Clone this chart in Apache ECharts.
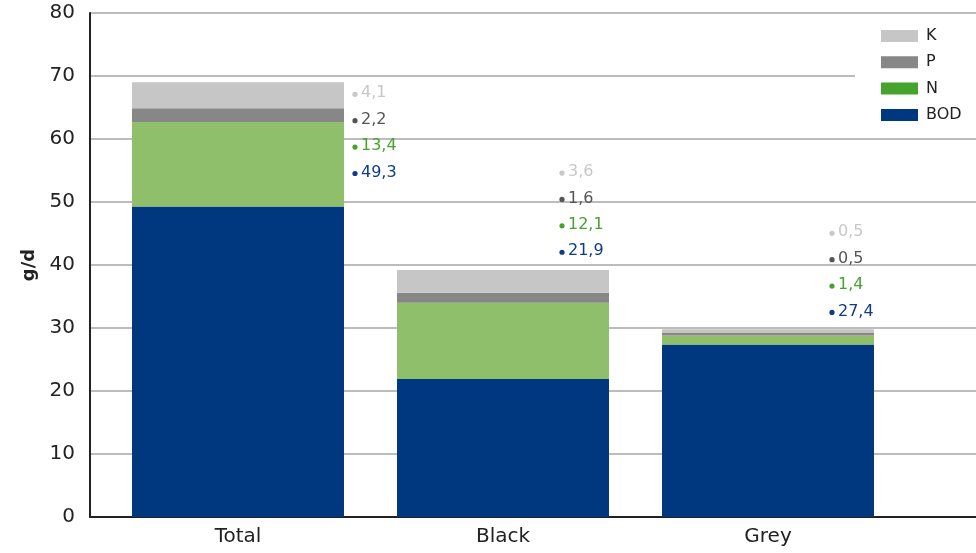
<!DOCTYPE html>
<html>
<head>
<meta charset="utf-8">
<script src="https://cdn.jsdelivr.net/npm/echarts@6/dist/echarts.min.js"></script>
<style>
html,body{margin:0;padding:0;background:#fff;}
#chart{width:976px;height:553px;}
</style>
</head>
<body>
<div id="chart"></div>
<script>
// ---- data ----
const categories = ['Total', 'Black', 'Grey'];
const bodValues = [49.3, 21.9, 27.4];
const nValues = [13.4, 12.1, 1.4];
const pValues = [2.2, 1.6, 0.5];
const kValues = [4.1, 3.6, 0.5];
const yTicks = { min: 0, max: 80, interval: 10 };

// ---- styles / layout ----
const barColors = { BOD: '#003880', N: '#8fbf6b', P: '#878787', K: '#c6c6c6' };
const legendColors = { BOD: '#003880', N: '#46a32e', P: '#878787', K: '#c6c6c6' };
const labelColors = { BOD: '#0d3c8a', N: '#46a32e', P: '#555555', K: '#c8c8c8' };
// label block anchor per category: [dx from category centre, dy from stack top] in px
const labelAnchor = [[117, 11], [59, -98], [64, -97]];
const labelRowGap = 26.4;
const FONT = 'DejaVu Sans';

const totals = categories.map((c, i) => bodValues[i] + nValues[i] + pValues[i] + kValues[i]);
const fmt = v => v.toFixed(1).replace('.', ',');

const chart = echarts.init(document.getElementById('chart'));

function barSeries(name, values) {
  return {
    name: name,
    type: 'bar',
    stack: 'total',
    xAxisIndex: 1,
    yAxisIndex: 1,
    barCategoryGap: '20%',
    data: values,
    itemStyle: { color: barColors[name] },
    emphasis: { disabled: true }
  };
}

const labelSeries = {
  type: 'custom',
  name: 'labels',
  silent: true,
  z: 10,
  xAxisIndex: 1,
  yAxisIndex: 1,
  clip: false,
  data: categories.map((c, i) => [i, totals[i]]),
  encode: { x: 0, y: 1 },
  renderItem: function (params, api) {
    const i = params.dataIndex;
    const pt = api.coord([api.value(0), api.value(1)]);
    const x = pt[0] + labelAnchor[i][0];
    const y = pt[1] + labelAnchor[i][1];
    const rows = [
      ['K', kValues[i]],
      ['P', pValues[i]],
      ['N', nValues[i]],
      ['BOD', bodValues[i]]
    ];
    const children = [];
    rows.forEach(function (r, j) {
      const yy = y + j * labelRowGap;
      children.push({
        type: 'circle',
        shape: { cx: x, cy: yy + 1, r: 2.6 },
        style: { fill: labelColors[r[0]] }
      });
      children.push({
        type: 'text',
        style: {
          x: x + 6,
          y: yy,
          text: fmt(r[1]),
          fill: labelColors[r[0]],
          fontSize: 16,
          fontFamily: FONT,
          verticalAlign: 'middle',
          align: 'left'
        }
      });
    });
    return { type: 'group', children: children };
  }
};

chart.setOption({
  animation: false,
  backgroundColor: '#ffffff',
  grid: [
    { left: 90, right: 0, top: 13, bottom: 36, containLabel: false },
    { left: 105.5, right: 75.5, top: 13, bottom: 36, containLabel: false }
  ],
  legend: {
    orient: 'vertical',
    left: 855,
    top: 21,
    padding: [7, 20, 7, 26],
    backgroundColor: '#ffffff',
    itemWidth: 37,
    itemHeight: 12,
    itemGap: 10.3,
    textStyle: { fontFamily: FONT, fontSize: 16, color: '#222222', padding: [0, 0, 0, 3] },
    data: ['K', 'P', 'N', 'BOD'].map(n => ({ name: n, icon: 'rect', itemStyle: { color: legendColors[n] } })),
    selectedMode: false
  },
  xAxis: [
    {
      type: 'category',
      gridIndex: 0,
      data: categories,
      axisTick: { show: false },
      axisLabel: { show: false },
      axisLine: { show: true, lineStyle: { color: '#222222', width: 2 } }
    },
    {
      type: 'category',
      gridIndex: 1,
      data: categories,
      axisTick: { show: false },
      axisLine: { show: false },
      axisLabel: { fontFamily: FONT, fontSize: 20, color: '#222222', margin: 10 }
    }
  ],
  yAxis: [
    {
      type: 'value',
      gridIndex: 0,
      min: yTicks.min,
      max: yTicks.max,
      interval: yTicks.interval,
      name: 'g/d',
      nameLocation: 'middle',
      nameGap: 52,
      nameTextStyle: { fontFamily: FONT, fontSize: 18, fontWeight: 'bold', color: '#222222' },
      axisLine: { show: true, lineStyle: { color: '#222222', width: 2 } },
      axisTick: { show: false },
      axisLabel: { fontFamily: FONT, fontSize: 20, color: '#222222', margin: 15 },
      splitLine: { show: true, lineStyle: { color: '#a6a6a6', width: 1.5 } }
    },
    {
      type: 'value',
      gridIndex: 1,
      min: yTicks.min,
      max: yTicks.max,
      interval: yTicks.interval,
      show: false,
      splitLine: { show: false }
    }
  ],
  series: [
    barSeries('BOD', bodValues),
    barSeries('N', nValues),
    barSeries('P', pValues),
    barSeries('K', kValues),
    labelSeries
  ]
});
</script>
</body>
</html>
